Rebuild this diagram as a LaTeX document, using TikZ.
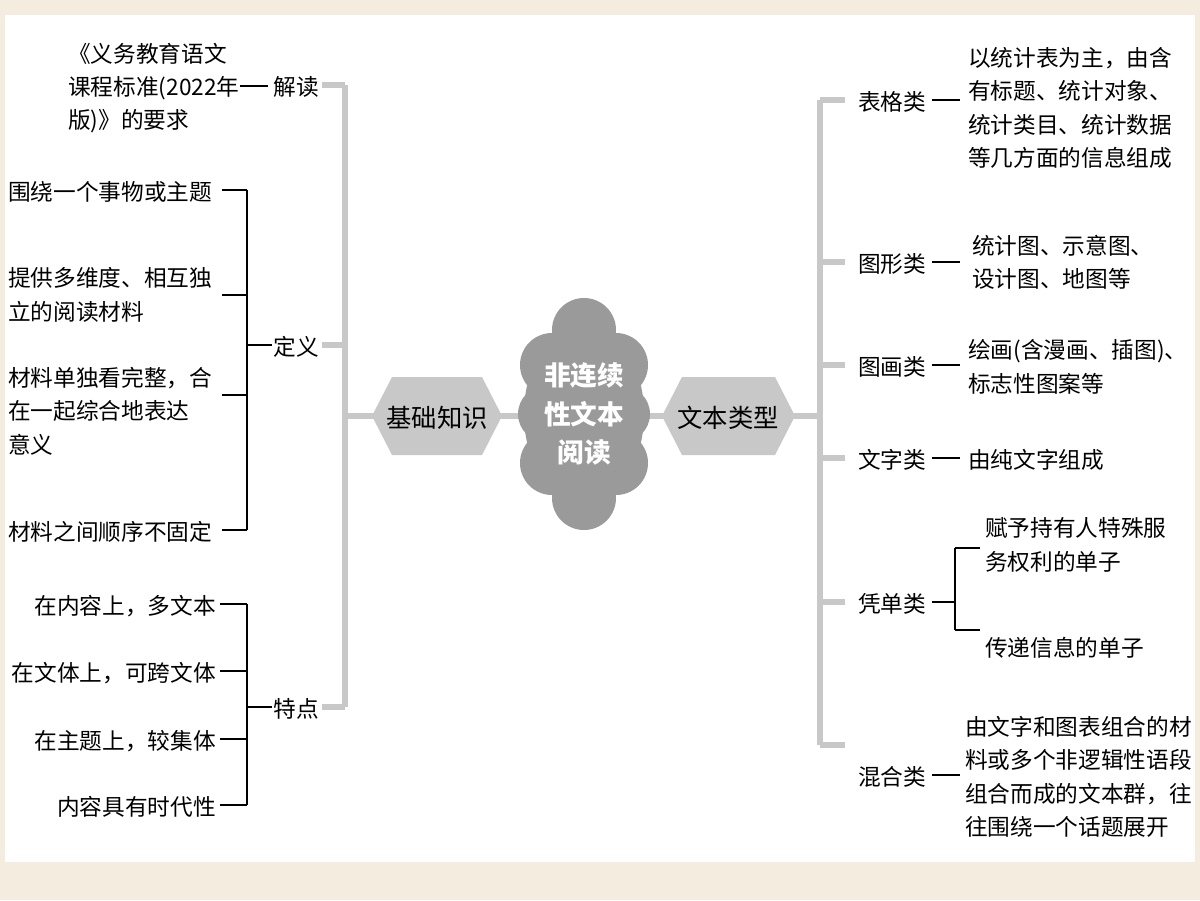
\documentclass[tikz,border=0pt]{standalone}
\usepackage{fontspec}
\setmainfont{Noto Sans CJK SC}
\usetikzlibrary{shapes.geometric}
\definecolor{paper}{HTML}{F4ECDF}
\definecolor{branch}{HTML}{C8C8C8}
\definecolor{cloudgray}{HTML}{9A9A9A}
\tikzset{
  gline/.style={branch, line width=4pt},
  bline/.style={black, line width=1.4pt},
  leaf/.style={font=\fontsize{17}{25}\selectfont, inner sep=0pt},
  hexbox/.style={regular polygon, regular polygon sides=6, shape border rotate=0, fill=branch,
    minimum width=0pt, inner sep=0pt}
}
\begin{document}
\begin{tikzpicture}[x=0.75pt,y=-0.75pt]
  \useasboundingbox (0,0) rectangle (1200,900);
  \fill[paper] (0,0) rectangle (1200,900);
  \fill[white] (5,15) rectangle (1195,862);
  % left trunk
  \draw[gline] (345,85) -- (345,707);
  \foreach \y in {85,345,707}{
    \draw[gline] (322,\y) -- (345,\y);
  }
  \draw[gline] (345,416) -- (380,416);
  \draw[gline] (495,416) -- (530,416);
  \draw[gline] (640,416) -- (670,416);
  \draw[gline] (790,416) -- (820,416);
  % right trunk
  \draw[gline] (820,100) -- (820,745);
  \foreach \y in {100,262,365,458,602,745}{
    \draw[gline] (820,\y) -- (845,\y);
  }
  % hexagons
  \fill[branch] (372,416) -- (392,377) -- (482,377) -- (502,416) -- (482,455) -- (392,455) -- cycle;
  \node[font=\fontsize{19}{20}\selectfont] (jichu) at (437,418) {基础知识};
  \fill[branch] (662,416) -- (682,377) -- (775,377) -- (795,416) -- (775,455) -- (682,455) -- cycle;
  \node[font=\fontsize{19}{20}\selectfont] (leixing) at (728,418) {文本类型};
  % cloud
  \fill[cloudgray] (584,414) ellipse [x radius=60, y radius=90];
  \foreach \cx/\cy/\r in {584/330/32, 584/498/32, 552/365/32, 616/365/32, 552/463/32, 616/463/32, 546/414/28, 622/414/28}{
    \fill[cloudgray] (\cx,\cy) circle [radius=\r];
  }
  \node[white, align=center, font=\bfseries\fontsize{20}{29}\selectfont] (center) at (584,414) {非连续\\性文本\\阅读};
  % left branches
  \node[leaf] (jiedu) at (296,87) {解读};
  \node[leaf, anchor=west, align=left] (biaozhun) at (68,88) {《义务教育语文\\课程标准(2022年\\版)》的要求};
  \draw[bline] (240,86) -- (268,86);
  \node[leaf] (dingyi) at (296,347) {定义};
  \draw[bline] (247,190) -- (247,530);
  \draw[bline] (247,345) -- (272,345);
  \foreach \y in {190,295,395,530}{
    \draw[bline] (222,\y) -- (247,\y);
  }
  \node[leaf, anchor=west] (d1) at (8,192) {围绕一个事物或主题};
  \node[leaf, anchor=west, align=left] (d2) at (8,295) {提供多维度、相互独\\立的阅读材料};
  \node[leaf, anchor=north west, align=left] (d3) at (8,367) {材料单独看完整，合\\在一起综合地表达\\意义};
  \node[leaf, anchor=west] (d4) at (8,532) {材料之间顺序不固定};
  \node[leaf] (tedian) at (296,709) {特点};
  \draw[bline] (247,604) -- (247,805);
  \draw[bline] (247,707) -- (272,707);
  \foreach \y/\t in {604/在内容上，多文本,671/在文体上，可跨文体,739/在主题上，较集体,805/内容具有时代性}{
    \draw[bline] (220,\y) -- (247,\y);
    \node[leaf, anchor=east] at (216,\y+2) {\t};
  }
  % right branches
  \node[leaf] (biaoge) at (892,102) {表格类};
  \draw[bline] (932,100) -- (960,100);
  \node[leaf, anchor=west, align=left] (biaoge t) at (968,108) {以统计表为主，由含\\有标题、统计对象、\\统计类目、统计数据\\等几方面的信息组成};
  \node[leaf] (tuxing) at (892,264) {图形类};
  \draw[bline] (932,262) -- (960,262);
  \node[leaf, anchor=west, align=left] (tuxing t) at (972,262) {统计图、示意图、\\设计图、地图等};
  \node[leaf] (tuhua) at (892,367) {图画类};
  \draw[bline] (932,365) -- (960,365);
  \node[leaf, anchor=west, align=left] (tuhua t) at (968,367) {绘画(含漫画、插图)、\\标志性图案等};
  \node[leaf] (wenzi) at (892,460) {文字类};
  \draw[bline] (932,458) -- (960,458);
  \node[leaf, anchor=west] (wenzi t) at (968,460) {由纯文字组成};
  \node[leaf] (pingdan) at (892,604) {凭单类};
  \draw[bline] (932,602) -- (955,602);
  \draw[bline] (955,548) -- (955,630);
  \draw[bline] (955,548) -- (980,548);
  \draw[bline] (955,630) -- (980,630);
  \node[leaf, anchor=west, align=left] (pd1) at (985,545) {赋予持有人特殊服\\务权利的单子};
  \node[leaf, anchor=west] (pd2) at (985,648) {传递信息的单子};
  \node[leaf] (hunhe) at (892,777) {混合类};
  \draw[bline] (932,775) -- (960,775);
  \node[leaf, anchor=west, align=left] (hunhe t) at (965,777) {由文字和图表组合的材\\料或多个非逻辑性语段\\组合而成的文本群，往\\往围绕一个话题展开};
\end{tikzpicture}
\end{document}
